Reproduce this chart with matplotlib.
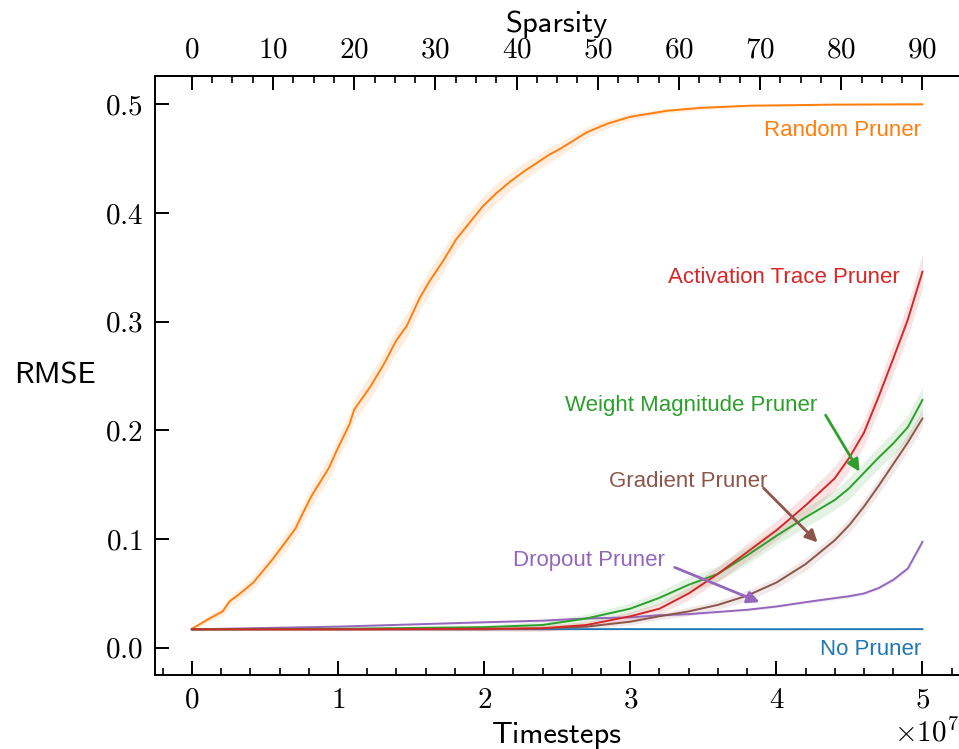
import numpy as np
import matplotlib
matplotlib.use("Agg")
import matplotlib.pyplot as plt
from matplotlib.ticker import MultipleLocator, AutoMinorLocator, FixedLocator

plt.rcParams["font.family"] = "cmr10"
plt.rcParams["mathtext.fontset"] = "cm"
plt.rcParams["axes.formatter.use_mathtext"] = True
plt.rcParams["axes.unicode_minus"] = False

# timesteps in units of 1e7
t_grid = [0, 1, 2, 2.4, 2.7, 3.0, 3.2, 3.4, 3.6, 3.8, 4.0, 4.2, 4.4, 4.5, 4.6, 4.7, 4.8, 4.9, 5.0]

red = [0.017, 0.017, 0.0175, 0.018, 0.021, 0.029, 0.036, 0.050, 0.068, 0.088, 0.108, 0.131,
       0.156, 0.175, 0.198, 0.231, 0.266, 0.302, 0.346]
red_std = [0.001, 0.001, 0.002, 0.003, 0.003, 0.004, 0.005, 0.006, 0.007, 0.008, 0.009, 0.010,
           0.011, 0.012, 0.012, 0.013, 0.014, 0.015, 0.016]

green = [0.017, 0.0175, 0.019, 0.021, 0.027, 0.036, 0.046, 0.058, 0.068, 0.085, 0.103, 0.120,
         0.136, 0.147, 0.161, 0.175, 0.188, 0.203, 0.228]
green_std = [0.001, 0.001, 0.002, 0.003, 0.004, 0.005, 0.006, 0.007, 0.007, 0.008, 0.008, 0.009,
             0.009, 0.010, 0.010, 0.010, 0.011, 0.011, 0.012]

brown = [0.017, 0.017, 0.017, 0.0178, 0.0195, 0.024, 0.029, 0.0335, 0.0395, 0.048, 0.060, 0.077,
         0.099, 0.113, 0.130, 0.149, 0.169, 0.189, 0.211]
brown_std = [0.001, 0.001, 0.001, 0.002, 0.002, 0.003, 0.003, 0.004, 0.004, 0.005, 0.005, 0.006,
             0.006, 0.007, 0.007, 0.007, 0.008, 0.008, 0.008]

purple = [0.017, 0.0195, 0.0235, 0.025, 0.027, 0.028, 0.030, 0.031, 0.033, 0.035, 0.038, 0.042,
          0.0457, 0.0475, 0.050, 0.055, 0.0625, 0.073, 0.0975]
purple_std = [0.0005, 0.0008, 0.001, 0.001, 0.001, 0.001, 0.001, 0.001, 0.001, 0.0012, 0.0012,
              0.0014, 0.0015, 0.0015, 0.0016, 0.0018, 0.002, 0.0025, 0.003]

t_blue = [0, 1, 2, 3, 4, 5]
blue = [0.0172, 0.0172, 0.0171, 0.0172, 0.0171, 0.0172]

t_orange = [0, 0.12, 0.21, 0.26, 0.33, 0.42, 0.55, 0.65, 0.71, 0.76, 0.82, 0.94, 1.0, 1.08,
            1.11, 1.22, 1.31, 1.40, 1.47, 1.56, 1.63, 1.72, 1.81, 1.90, 1.99, 2.09, 2.18, 2.27,
            2.36, 2.45, 2.52, 2.70, 2.84, 3.0, 3.25, 3.48, 3.82, 4.39, 5.0]
orange = [0.0175, 0.027, 0.0334, 0.043, 0.05, 0.06, 0.081, 0.099, 0.11, 0.124, 0.14, 0.166,
          0.184, 0.206, 0.219, 0.24, 0.26, 0.283, 0.296, 0.322, 0.338, 0.356, 0.376, 0.391,
          0.406, 0.419, 0.429, 0.438, 0.446, 0.454, 0.459, 0.474, 0.482, 0.4885, 0.494, 0.4967,
          0.4987, 0.4997, 0.5]
orange_std = [0.001, 0.003, 0.004, 0.005, 0.005, 0.006, 0.007, 0.008, 0.008, 0.009, 0.009, 0.010,
              0.010, 0.010, 0.010, 0.011, 0.011, 0.011, 0.011, 0.011, 0.011, 0.010, 0.010, 0.010,
              0.009, 0.009, 0.008, 0.008, 0.007, 0.007, 0.006, 0.005, 0.004, 0.003, 0.002, 0.002,
              0.001, 0.001, 0.001]

SCALE = 1e7
MAX_T = 5e7
MAX_SPARSITY = 90

C_BLUE = "#1f77b4"
C_ORANGE = "#ff7f0e"
C_GREEN = "#2ca02c"
C_RED = "#d62728"
C_PURPLE = "#9467bd"
C_BROWN = "#8c564b"

ANN_FONT = ["Liberation Sans", "DejaVu Sans"]


def plot_series(ax, t, y, std, color):
    x = np.array(t) * SCALE
    y = np.array(y)
    ax.plot(x, y, color=color, lw=1.4, zorder=3)
    if std is not None:
        s = np.array(std)
        ax.fill_between(x, y - s, y + s, color=color, alpha=0.13, lw=0, zorder=2)


def arrow(ax, start, end, color):
    ax.annotate("", xy=(end[0] * SCALE, end[1]), xytext=(start[0] * SCALE, start[1]),
                arrowprops=dict(arrowstyle="-|>", color=color, lw=2,
                                mutation_scale=18, shrinkA=0, shrinkB=0), zorder=5)


def main():
    fig = plt.figure(figsize=(9.59, 7.49), dpi=100)
    ax = fig.add_axes([0.162, 0.0988, 0.838, 0.7997])

    plot_series(ax, t_blue, blue, None, C_BLUE)
    plot_series(ax, t_orange, orange, orange_std, C_ORANGE)
    plot_series(ax, t_grid, purple, purple_std, C_PURPLE)
    plot_series(ax, t_grid, brown, brown_std, C_BROWN)
    plot_series(ax, t_grid, green, green_std, C_GREEN)
    plot_series(ax, t_grid, red, red_std, C_RED)

    ax.set_xlim(-0.25e7, 5.25e7)
    ax.set_ylim(-0.025, 0.526)

    ax.spines["right"].set_visible(False)
    for sp in ["left", "bottom", "top"]:
        ax.spines[sp].set_linewidth(1.4)

    ax.yaxis.set_major_locator(MultipleLocator(0.1))
    ax.xaxis.set_major_locator(MultipleLocator(1e7))
    ax.xaxis.set_minor_locator(AutoMinorLocator(5))
    ax.tick_params(axis="both", which="major", direction="in", length=10, width=1.4,
                   labelsize=21, pad=9)
    ax.tick_params(axis="x", which="minor", direction="in", length=5, width=1.2)
    ax.tick_params(top=False, right=False, which="both")
    ax.xaxis.get_offset_text().set_fontsize(21)

    ax.set_xlabel("Timesteps", family="cmss10", fontsize=22, labelpad=6)
    ax.set_ylabel("RMSE", family="cmss10", fontsize=22, rotation=0, labelpad=36,
                  va="center")

    top = ax.secondary_xaxis("top", functions=(lambda t: t / MAX_T * MAX_SPARSITY,
                                                lambda s: s / MAX_SPARSITY * MAX_T))
    top.xaxis.set_major_locator(FixedLocator(np.arange(0, MAX_SPARSITY + 1, 10)))
    top.xaxis.set_minor_locator(FixedLocator(np.arange(0, MAX_SPARSITY + 0.1, 2.5)))
    top.tick_params(which="major", direction="in", length=10, width=1.4, labelsize=21, pad=9)
    top.tick_params(which="minor", direction="in", length=5, width=1.2)
    top.spines["top"].set_linewidth(1.4)
    top.set_xlabel("Sparsity", family="cmss10", fontsize=22, labelpad=4)

    # labels
    ax.text(4.993 * SCALE, 0.476, "Random Pruner", color=C_ORANGE, fontsize=16,
            family=ANN_FONT, ha="right", va="center")
    ax.text(4.843 * SCALE, 0.341, "Activation Trace Pruner", color=C_RED, fontsize=16,
            family=ANN_FONT, ha="right", va="center")
    ax.text(3.42 * SCALE, 0.223, "Weight Magnitude Pruner", color=C_GREEN, fontsize=16,
            family=ANN_FONT, ha="center", va="center")
    ax.text(3.396 * SCALE, 0.153, "Gradient Pruner", color=C_BROWN, fontsize=16,
            family=ANN_FONT, ha="center", va="center")
    ax.text(2.719 * SCALE, 0.0807, "Dropout Pruner", color=C_PURPLE, fontsize=16,
            family=ANN_FONT, ha="center", va="center")
    ax.text(4.993 * SCALE, -0.002, "No Pruner", color=C_BLUE, fontsize=16,
            family=ANN_FONT, ha="right", va="center")

    arrow(ax, (4.337, 0.214), (4.569, 0.162), C_GREEN)
    arrow(ax, (3.912, 0.147), (4.282, 0.097), C_BROWN)
    arrow(ax, (3.304, 0.074), (3.885, 0.042), C_PURPLE)

    fig.savefig("out.png", dpi=100)


if __name__ == "__main__":
    main()
